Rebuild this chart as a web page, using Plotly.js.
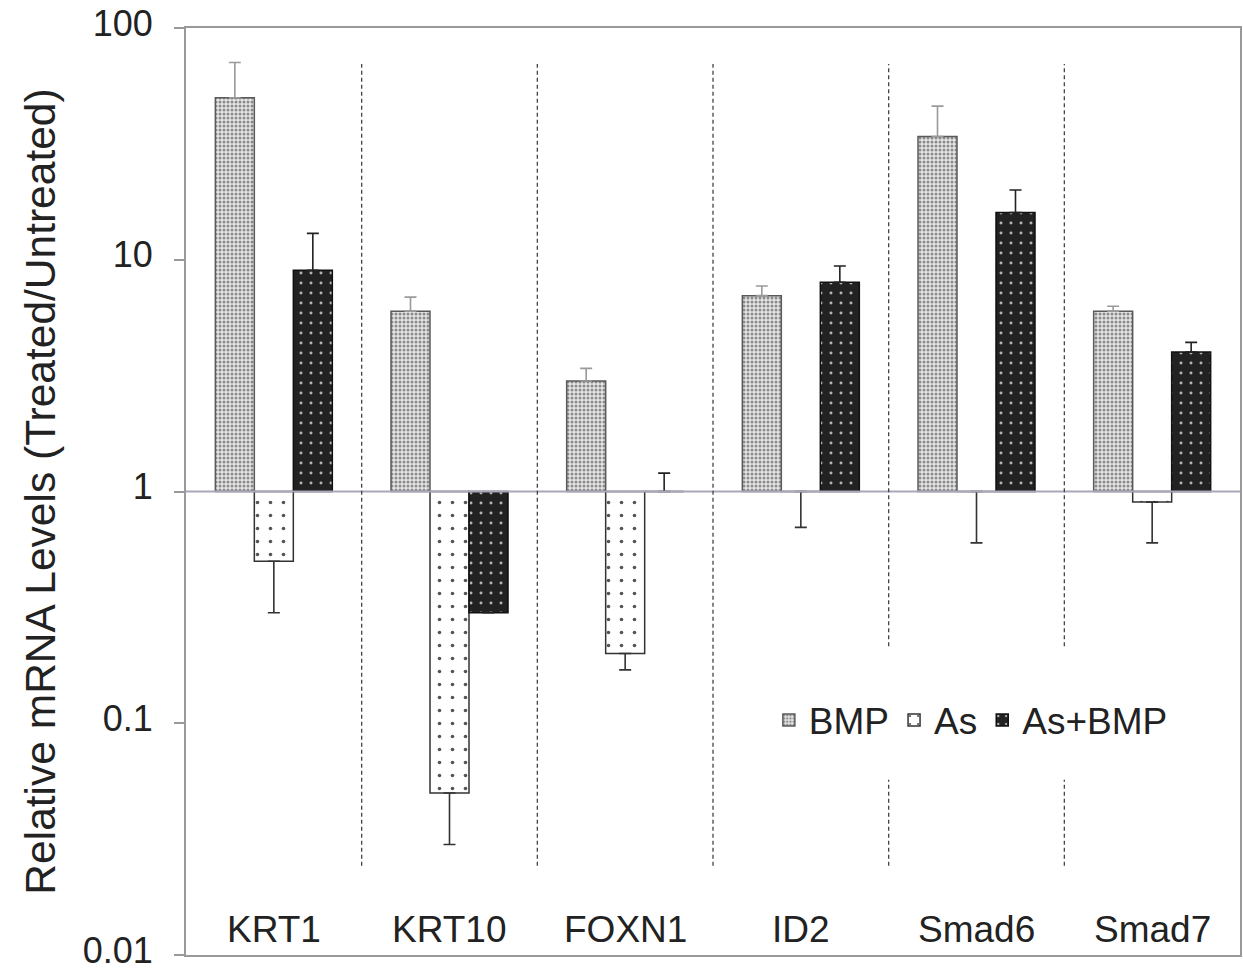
<!DOCTYPE html>
<html><head><meta charset="utf-8">
<script src="https://cdn.plot.ly/plotly-3.0.1.min.js"></script>
<style>body{margin:0;background:#fff}#chart{width:1243px;height:973px}</style>
</head><body><div id="chart"></div>
<script>
const categories = ['KRT1','KRT10','FOXN1','ID2','Smad6','Smad7'];
const seriesNames = ['BMP','As','As+BMP'];
const bmpValues  = [50, 6, 3.0, 7, 34, 6];
const bmpErrTop  = [71, 6.9, 3.4, 7.7, 46, 6.3];
const asValues   = [0.5, 0.05, 0.2, 1, 1, 0.9];
const asErrLow   = [0.3, 0.03, 0.17, 0.7, 0.6, 0.6];
const asbValues  = [9, 0.3, 1, 8, 16, 4];
const asbErrTop  = [13, null, 1.2, 9.4, 20, 4.4];
const yTickVals  = [0.01, 0.1, 1, 10, 100];
const yTickText  = ['0.01','0.1','1','10','100'];

const barWidth = 0.222;
const offsets = [-barWidth, 0, barWidth];
const idx = categories.map((_, i) => i);
const FONT = 'Liberation Sans, Arial, sans-serif';

const styles = [
  {pattern:{shape:'.', bgcolor:'#e6e6e6', fgcolor:'#8a8a8a', size:4, solidity:0.45}, line:'#5a5a5a', err:'#9a9a9a'},
  {pattern:{shape:'.', bgcolor:'#ffffff', fgcolor:'#555555', size:13, solidity:0.06}, line:'#333333', err:'#333333'},
  {pattern:{shape:'.', bgcolor:'#222222', fgcolor:'#b5b5b5', size:10, solidity:0.07}, line:'#111111', err:'#222222'}
];
const values = [bmpValues, asValues, asbValues];

const traces = [];
values.forEach((vals, s) => {
  traces.push({
    type:'bar', name: seriesNames[s],
    x: idx.map(i => i + offsets[s]),
    y: vals.map(v => v - 1), base: vals.map(() => 1),
    width: barWidth,
    marker:{color: styles[s].pattern.bgcolor, pattern: styles[s].pattern, line:{color: styles[s].line, width:1.5}},
    hoverinfo:'skip'
  });
});
const errSpecs = [
  {vals: bmpValues, up: bmpErrTop, down: null},
  {vals: asValues, up: null, down: asErrLow},
  {vals: asbValues, up: asbErrTop, down: null}
];
errSpecs.forEach((e, s) => {
  const plus = e.vals.map((v, i) => e.up && e.up[i] != null ? e.up[i] - v : 0);
  const minus = e.vals.map((v, i) => e.down && e.down[i] != null ? v - e.down[i] : 0);
  traces.push({
    type:'scatter', mode:'markers', showlegend:false, hoverinfo:'skip',
    x: idx.map(i => i + offsets[s]), y: e.vals,
    marker:{size:1, opacity:0},
    error_y:{type:'data', symmetric:false, array: plus, arrayminus: minus,
             color: styles[s].err, thickness:1.6, width:6}
  });
});

const shapes = [];
shapes.push({type:'line', xref:'paper', x0:0, x1:1, yref:'y', y0:1, y1:1, line:{color:'#a8a8b8', width:2}, layer:'above'});
const dashStyle = {color:'#444', width:1.3, dash:'4px,3px'};
for (let i = 0; i < categories.length - 1; i++) {
  const xb = i + 0.5;
  if (i >= 3) {
    shapes.push({type:'line', xref:'x', x0:xb, x1:xb, yref:'y', y0:0.215, y1:70, line:dashStyle});
    shapes.push({type:'line', xref:'x', x0:xb, x1:xb, yref:'y', y0:0.0243, y1:0.057, line:dashStyle});
  } else {
    shapes.push({type:'line', xref:'x', x0:xb, x1:xb, yref:'y', y0:0.0243, y1:70, line:dashStyle});
  }
}

const annotations = categories.map((c, i) => ({
  x: i, xref:'x', y:0.027, yref:'paper', yanchor:'middle', text:c, showarrow:false,
  font:{family:FONT, size:37, color:'#222'}
}));

const layout = {
  width:1243, height:973,
  margin:{l:186, r:3, t:28, b:18},
  paper_bgcolor:'#fff', plot_bgcolor:'#fff',
  barmode:'overlay',
  showlegend:true,
  legend:{orientation:'h', x:0.553, y:0.253, xanchor:'left', yanchor:'middle',
          font:{family:FONT, size:37, color:'#222'}, bgcolor:'rgba(0,0,0,0)', itemwidth:30, traceorder:'normal'},
  xaxis:{range:[-0.5, 5.5], showticklabels:false, ticks:'', showgrid:false, zeroline:false,
         showline:true, linecolor:'#999', linewidth:2, mirror:true},
  yaxis:{type:'log', range:[-2, 2], tickvals:yTickVals, ticktext:yTickText,
         ticks:'outside', ticklen:10, tickwidth:2, tickcolor:'#999', showgrid:false, zeroline:false,
         showline:true, linecolor:'#999', linewidth:2, mirror:true, ticklabelstandoff:14,
         ticklabeloverflow:'allow', ticklabelshift:-5,
         tickfont:{family:FONT, size:36, color:'#222'},
         title:{text:'Relative mRNA Levels (Treated/Untreated)', font:{family:FONT, size:42.5, color:'#222'}, standoff:14}},
  shapes, annotations
};
Plotly.newPlot('chart', traces, layout, {displayModeBar:false, staticPlot:true});
</script></body></html>
